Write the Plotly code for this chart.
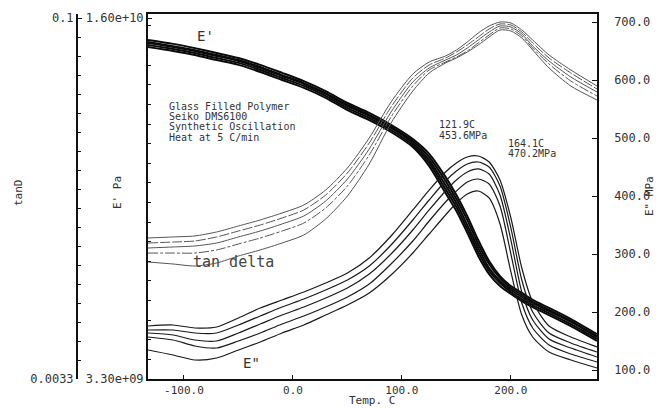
import plotly.graph_objects as go
import numpy as np

MONO = "DejaVu Sans Mono, Liberation Mono, monospace"

# ---------------- data ----------------
temp_c = [-133, -110, -90, -70, -50, -30, -10, 10, 30, 50, 70, 90, 110, 125,
          140, 150, 160, 170, 180, 190, 200, 210, 220, 235, 255, 279]

# Storage modulus E' (units of 1e9 Pa), five tightly bunched curves
e_prime_1 = [15.23, 15.09, 14.94, 14.77, 14.59, 14.35, 14.07, 13.78, 13.43, 13.01, 12.66, 12.24, 11.74,
             11.22, 10.41, 9.77, 9.03, 8.19, 7.45, 6.92, 6.57, 6.33, 6.08, 5.80, 5.41, 4.88]
e_prime_2 = [15.16, 15.01, 14.87, 14.70, 14.52, 14.28, 13.99, 13.71, 13.36, 12.94, 12.59, 12.17, 11.67,
             11.11, 10.27, 9.63, 8.89, 8.05, 7.35, 6.85, 6.50, 6.26, 6.01, 5.73, 5.34, 4.81]
e_prime_3 = [15.12, 14.98, 14.84, 14.66, 14.49, 14.24, 13.96, 13.68, 13.33, 12.90, 12.55, 12.13, 11.60,
             11.00, 10.12, 9.49, 8.72, 7.91, 7.20, 6.75, 6.43, 6.19, 5.97, 5.69, 5.31, 4.78]
e_prime_4 = [15.05, 14.91, 14.77, 14.59, 14.42, 14.17, 13.89, 13.61, 13.26, 12.83, 12.48, 12.06, 11.53,
             10.90, 9.98, 9.35, 8.58, 7.77, 7.10, 6.68, 6.36, 6.11, 5.90, 5.62, 5.23, 4.71]
e_prime_5 = [14.98, 14.84, 14.70, 14.52, 14.35, 14.10, 13.82, 13.54, 13.19, 12.76, 12.41, 11.99, 11.46,
             10.79, 9.84, 9.21, 8.44, 7.63, 6.99, 6.57, 6.29, 6.04, 5.83, 5.55, 5.16, 4.64]

# Loss modulus E'' (MPa)
e_loss_1 = [175.9, 177.6, 172.4, 174.1, 189.7, 206.9, 220.7, 234.5, 250.0, 267.2, 293.1, 331.0, 375.9,
            410.3, 441.4, 456.9, 467.2, 469.0, 458.6, 427.6, 362.1, 275.9, 217.2, 175.9, 156.9, 139.7]
e_loss_2 = [169.0, 169.0, 163.8, 163.8, 177.6, 193.1, 208.6, 222.4, 237.9, 255.2, 279.3, 315.5, 358.6,
            393.1, 425.9, 443.1, 455.2, 458.6, 450.0, 417.2, 344.8, 255.2, 200.0, 163.8, 146.6, 131.0]
e_loss_3 = [163.8, 160.3, 151.7, 150.0, 163.8, 179.3, 194.8, 208.6, 224.1, 241.4, 265.5, 300.0, 341.4,
            375.9, 408.6, 427.6, 441.4, 446.6, 437.9, 401.7, 324.1, 234.5, 186.2, 153.4, 137.9, 122.4]
e_loss_4 = [156.9, 151.7, 141.4, 137.9, 150.0, 163.8, 179.3, 193.1, 208.6, 225.9, 248.3, 282.8, 322.4,
            356.9, 389.7, 408.6, 424.1, 429.3, 420.7, 382.8, 300.0, 215.5, 172.4, 143.1, 127.6, 113.8]
e_loss_5 = [134.5, 125.9, 117.2, 120.7, 134.5, 148.3, 163.8, 177.6, 194.8, 212.1, 232.8, 263.8, 301.7,
            334.5, 367.2, 387.9, 403.4, 408.6, 396.6, 351.7, 269.0, 194.8, 156.9, 131.0, 117.2, 103.4]

# tan delta (log axis)
tan_delta_1 = [0.01251, 0.01263, 0.01275, 0.01324, 0.01401, 0.01483, 0.01584, 0.01708, 0.01968, 0.02424,
               0.03218, 0.04521, 0.05891, 0.06598, 0.06983, 0.07390, 0.07971, 0.08679, 0.09272, 0.09629,
               0.09539, 0.08928, 0.08123, 0.07049, 0.06118, 0.05259]
tan_delta_2 = [0.01193, 0.01204, 0.01216, 0.01263, 0.01336, 0.01414, 0.01511, 0.01630, 0.01877, 0.02312,
               0.03069, 0.04312, 0.05672, 0.06414, 0.06852, 0.07252, 0.07748, 0.08357, 0.09013, 0.09449,
               0.09360, 0.08761, 0.07896, 0.06852, 0.05947, 0.05112]
tan_delta_3 = [0.01138, 0.01149, 0.01160, 0.01193, 0.01263, 0.01336, 0.01428, 0.01540, 0.01774, 0.02184,
               0.02900, 0.04113, 0.05462, 0.06234, 0.06724, 0.07049, 0.07531, 0.08123, 0.08761, 0.09272,
               0.09185, 0.08597, 0.07675, 0.06661, 0.05726, 0.04969]
tan_delta_4 = [0.01085, 0.01085, 0.01085, 0.01117, 0.01182, 0.01251, 0.01336, 0.01441, 0.01661, 0.02044,
               0.02740, 0.03923, 0.05259, 0.06118, 0.06598, 0.06917, 0.07321, 0.07896, 0.08516, 0.09098,
               0.09013, 0.08436, 0.07531, 0.06475, 0.05514, 0.04785]
tan_delta_5 = [0.009969, 0.009782, 0.009599, 0.009875, 0.01055, 0.01117, 0.01193, 0.01287, 0.01497, 0.01860,
               0.02517, 0.03707, 0.05016, 0.05947, 0.06536, 0.06852, 0.07252, 0.07748, 0.08357, 0.08928,
               0.08844, 0.08278, 0.07390, 0.06234, 0.05259, 0.04608]

temp_ticks = [-100, 0, 100, 200]
temp_tick_labels = ["-100.0", "0.0", "100.0", "200.0"]
mpa_ticks = [100, 200, 300, 400, 500, 600, 700]
mpa_tick_labels = ["100.0", "200.0", "300.0", "400.0", "500.0", "600.0", "700.0"]
pa_ticks = [3.30e9, 1.60e10]
pa_tick_labels = ["3.30e+09", "1.60e+10"]
tand_ticks = [0.0033, 0.1]
tand_tick_labels = ["0.0033", "0.1"]

# ---------------- figure ----------------
fig = go.Figure()

td_dash = ["solid", "10px,2px", "solid", "10px,2px,3px,2px", "solid"]
for i, td in enumerate([tan_delta_1, tan_delta_2, tan_delta_3, tan_delta_4, tan_delta_5]):
    fig.add_trace(go.Scatter(x=temp_c, y=td, yaxis="y3", mode="lines",
                             line=dict(color="#555555", width=1, shape="spline", smoothing=0.7,
                                       dash=td_dash[i]),
                             hoverinfo="skip", showlegend=False))

for el in [e_loss_1, e_loss_2, e_loss_3, e_loss_4, e_loss_5]:
    fig.add_trace(go.Scatter(x=temp_c, y=el, yaxis="y2", mode="lines",
                             line=dict(color="#1a1a1a", width=1.2, shape="spline", smoothing=0.7),
                             hoverinfo="skip", showlegend=False))

for ep in [e_prime_1, e_prime_2, e_prime_3, e_prime_4, e_prime_5]:
    fig.add_trace(go.Scatter(x=temp_c, y=[v * 1e9 for v in ep], yaxis="y", mode="lines",
                             line=dict(color="#0a0a0a", width=2, shape="spline", smoothing=0.7),
                             hoverinfo="skip", showlegend=False))

# plot area geometry (pixels)
L, R, T, B = 77, 597, 14, 379
W, H = R - L, B - T


def pp(xp, yp):
    return (xp - L) / W, (B - yp) / H


annotations = []


def txt(s, xp, yp, size, xanchor="left", angle=0, color="#333333"):
    x, y = pp(xp, yp)
    annotations.append(dict(text=s, x=x, y=y, xref="paper", yref="paper", showarrow=False,
                            xanchor=xanchor, yanchor="middle", textangle=angle,
                            font=dict(family=MONO, size=size, color=color)))


for j, line in enumerate(["Glass Filled Polymer", "Seiko DMS6100", "Synthetic Oscillation",
                          "Heat at 5 C/min"]):
    txt(line, 167, 107 + 10 * j, 10)
txt("121.9C", 437, 125, 10)
txt("453.6MPa", 437, 135, 10)
txt("164.1C", 506, 143, 10)
txt("470.2MPa", 506, 153, 10)
txt("E'", 195, 36, 14)
txt("tan delta", 191, 262, 15, color="#444444")
txt("E\"", 241, 363, 14)
txt("Temp. C", 372, 400, 11, xanchor="center")
txt("tanD", 18, 193, 11, xanchor="center", angle=-90)
txt("E' Pa", 117, 193, 11, xanchor="center", angle=-90)
txt("E\" MPa", 650, 196, 11, xanchor="center", angle=-90)

log_lo, log_hi = np.log10(0.0033), np.log10(0.0033) + (np.log10(0.1) - np.log10(0.0033)) * H / (B - 18)
pa_hi = 3.3e9 + (1.6e10 - 3.3e9) * H / (B - 18)
mpa_lo = 100 - (B - 370) / 0.58
mpa_hi = 100 + (370 - T) / 0.58

axis_common = dict(showgrid=False, zeroline=False, linecolor="#111111", ticks="inside",
                   tickcolor="#111111", tickfont=dict(family=MONO, size=12, color="#333333"))

fig.update_layout(
    width=661, height=408,
    margin=dict(l=L, r=661 - R, t=T, b=408 - B, autoexpand=False),
    paper_bgcolor="white", plot_bgcolor="white",
    showlegend=False,
    xaxis=dict(domain=[(148 - L) / W, 1], range=[-133, 279], tickvals=temp_ticks,
               ticktext=temp_tick_labels, ticklen=4, showline=True, linewidth=1.5, mirror=True,
               anchor="y", **{k: v for k, v in axis_common.items() if k != "tickfont"},
               tickfont=dict(family=MONO, size=11, color="#333333")),
    yaxis=dict(range=[3.3e9, pa_hi], tickvals=pa_ticks, ticktext=pa_tick_labels, ticklen=4,
               showline=True, linewidth=2, anchor="x",
               minor=dict(tick0=3.3e9, dtick=6.9e8, ticks="inside", ticklen=3, tickcolor="#111111"),
               **axis_common),
    yaxis2=dict(overlaying="y", side="right", anchor="x", range=[mpa_lo, mpa_hi],
                tickvals=mpa_ticks, ticktext=mpa_tick_labels, ticklen=5, showline=True, linewidth=1.5,
                ticklabelstandoff=13, **axis_common),
    yaxis3=dict(overlaying="y", side="left", anchor="free", position=0, type="log",
                range=[log_lo, log_hi], tickvals=tand_ticks, ticktext=tand_tick_labels, ticklen=4,
                showline=True, linewidth=2,
                minor=dict(tickmode="array",
                           tickvals=list(10 ** np.linspace(log_lo, np.log10(0.1), 20)[1:-1]),
                           ticks="inside", ticklen=3, tickcolor="#111111"),
                **axis_common),
    annotations=annotations,
)

fig.write_html("out.html", config={"displayModeBar": False},
               post_script="document.body.style.margin='0px';document.body.style.padding='0px';")
